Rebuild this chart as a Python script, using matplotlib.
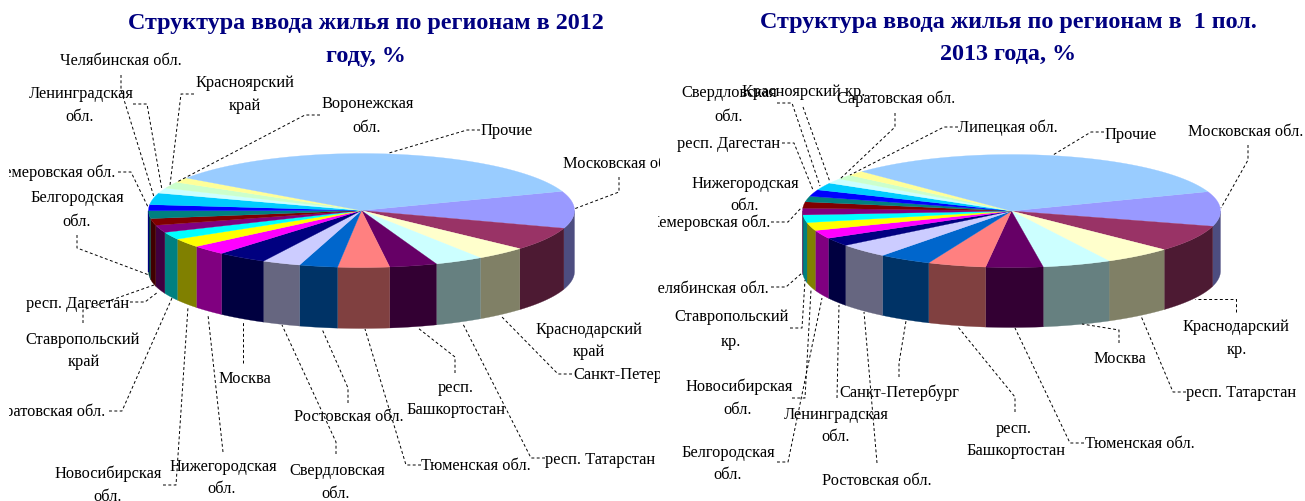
import numpy as np
import matplotlib
matplotlib.use("Agg")
import matplotlib.pyplot as plt

plt.rcParams['font.family'] = ['Liberation Serif', 'DejaVu Serif']

# ---------- data ----------
colors = ['#9999FF', '#993366', '#FFFFCC', '#CCFFFF', '#660066', '#FF8080', '#0066CC',
          '#CCCCFF', '#000080', '#FF00FF', '#FFFF00', '#00FFFF', '#800080', '#800000',
          '#008080', '#0000FF', '#00CCFF', '#CCFFFF', '#CCFFCC', '#FFFF99', '#99CCFF']

regions_2012 = ['Московская обл.', 'Краснодарский край', 'Санкт-Петербург', 'респ. Татарстан',
                'респ. Башкортостан', 'Тюменская обл.', 'Ростовская обл.', 'Свердловская обл.',
                'Москва', 'Нижегородская обл.', 'Новосибирская обл.', 'Саратовская обл.',
                'Ставропольский край', 'респ. Дагестан', 'Белгородская обл.', 'Кемеровская обл.',
                'Челябинская обл.', 'Ленинградская обл.', 'Красноярский край',
                'Воронежская обл.', 'Прочие']
values_2012 = [10.5, 6.6, 3.9, 3.7, 3.6, 3.9, 2.9, 2.9, 3.8, 2.7, 2.5, 2.1, 2.1, 1.9, 2.2,
               1.7, 3.3, 1.5, 1.8, 1.4, 34.8]

regions_2013 = ['Московская обл.', 'Краснодарский кр.', 'респ. Татарстан', 'Москва',
                'Тюменская обл.', 'респ. Башкортостан', 'Санкт-Петербург', 'Ростовская обл.',
                'Ленинградская обл.', 'Белгородская обл.', 'Новосибирская обл.',
                'Ставропольский кр.', 'Челябинская обл.', 'Кемеровская обл.',
                'Нижегородская обл.', 'респ. Дагестан', 'Свердловская обл.',
                'Красноярский кр.', 'Саратовская обл.', 'Липецкая обл.', 'Прочие']
values_2013 = [9.9, 7.6, 5.3, 5.3, 4.4, 4.5, 4.1, 4.0, 2.4, 2.4, 2.3, 2.2, 1.9, 1.8, 1.6,
               1.9, 2.1, 1.4, 1.3, 1.4, 32.1]

title_2012 = ['Структура ввода жилья по регионам в 2012', 'году, %']
title_2013 = ['Структура ввода жилья по регионам в  1 пол.', '2013 года, %']

# ---------- layout (figure pixels) ----------
W, H = 1305, 501
LABEL_FS = 11.8
TITLE_FS = 17.35
TEXT_DY = 1.0
NAVY = '#000080'

# text, x, y, ha
labels_left = [
    ('Челябинская обл.', 121, 60, 'center'), ('Ленинградская', 81, 93, 'center'), ('обл.', 80, 116, 'center'),
    ('Красноярский', 245, 82, 'center'), ('край', 245, 105, 'center'),
    ('Воронежская', 368, 103, 'center'), ('обл.', 367, 127, 'center'), ('Прочие', 507, 130, 'center'),
    ('Московская обл.', 563, 163, 'left'), ('Кемеровская обл.', 115, 172, 'right'),
    ('Белгородская', 77, 197, 'center'), ('обл.', 77, 221, 'center'), ('респ. Дагестан', 78, 303, 'center'),
    ('Ставропольский', 83, 339, 'center'), ('край', 84, 361, 'center'), ('Саратовская обл.', 105, 411, 'right'),
    ('Новосибирская', 108, 473, 'center'), ('обл.', 108, 496, 'center'),
    ('Нижегородская', 223, 466, 'center'), ('обл.', 222, 488, 'center'), ('Москва', 245, 378, 'center'),
    ('Свердловская', 337, 470, 'center'), ('обл.', 336, 493, 'center'), ('Ростовская обл.', 349, 416, 'center'),
    ('респ.', 456, 387, 'center'), ('Башкортостан', 456, 409, 'center'), ('Тюменская обл.', 476, 465, 'center'),
    ('респ. Татарстан', 600, 459, 'center'), ('Краснодарский', 589, 329, 'center'), ('край', 589, 351, 'center'),
    ('Санкт-Петербург', 573, 374, 'left'),
]
leaders_left = [
    [(480, 130), (467, 130), (389, 153)], [(619, 177), (619, 192), (574, 209)],
    [(320, 115), (305, 115), (177, 182)], [(194, 94), (181, 94), (170, 185)],
    [(121, 75), (121, 90), (154, 197)], [(133, 104), (147, 104), (162, 190)],
    [(118, 172), (131, 172), (148, 207)], [(77, 235), (77, 248), (149, 275)],
    [(130, 302), (145, 302), (158, 292)], [(83, 323), (83, 310), (154, 285)],
    [(109, 411), (122, 411), (172, 298)], [(163, 485), (176, 485), (188, 307)],
    [(223, 452), (208, 315)], [(243, 363), (243, 322)],
    [(336, 454), (336, 442), (282, 325)], [(348, 403), (348, 388), (322, 329)],
    [(421, 465), (406, 465), (365, 329)], [(455, 373), (455, 357), (418, 328)],
    [(545, 458), (531, 458), (463, 324)], [(572, 374), (558, 374), (502, 317)],
]

labels_right = [
    ('Свердловская', 729, 92, 'center'), ('обл.', 729, 116, 'center'), ('Красноярский кр.', 804, 91, 'center'),
    ('Саратовская обл.', 896, 98, 'center'), ('Липецкая обл.', 1008, 127, 'center'), ('Прочие', 1131, 134, 'center'),
    ('Московская обл.', 1246, 131, 'center'), ('респ. Дагестан', 729, 143, 'center'),
    ('Нижегородская', 745, 183, 'center'), ('обл.', 745, 205, 'center'), ('Кемеровская обл.', 770, 222, 'right'),
    ('Челябинская обл.', 769, 288, 'right'), ('Ставропольский', 732, 316, 'center'), ('кр.', 731, 341, 'center'),
    ('Новосибирская', 739, 386, 'center'), ('обл.', 738, 409, 'center'),
    ('Ленинградская', 836, 414, 'center'), ('обл.', 836, 436, 'center'), ('Санкт-Петербург', 899, 392, 'center'),
    ('Белгородская', 728, 452, 'center'), ('обл.', 728, 474, 'center'), ('Ростовская обл.', 877, 480, 'center'),
    ('респ.', 1014, 428, 'center'), ('Башкортостан', 1016, 450, 'center'), ('Тюменская обл.', 1140, 443, 'center'),
    ('Москва', 1120, 358, 'center'), ('респ. Татарстан', 1241, 392, 'center'),
    ('Краснодарский', 1236, 326, 'center'), ('кр.', 1237, 349, 'center'),
]
leaders_right = [
    [(1104, 132), (1091, 132), (1053, 155)], [(1248, 145), (1248, 160), (1221, 208)],
    [(958, 127), (944, 127), (850, 175)], [(895, 113), (895, 127), (840, 179)],
    [(803, 107), (830, 182)], [(777, 103), (792, 103), (820, 186)],
    [(782, 143), (794, 143), (813, 190)], [(771, 222), (788, 222), (802, 207)],
    [(771, 287), (786, 287), (802, 273)], [(790, 328), (802, 328), (805, 280)],
    [(792, 398), (805, 398), (811, 290)], [(777, 462), (788, 462), (822, 298)],
    [(837, 398), (839, 305)], [(877, 463), (864, 312)],
    [(899, 377), (899, 363), (906, 321)], [(1015, 412), (1015, 397), (958, 327)],
    [(1084, 443), (1070, 443), (1015, 328)], [(1119, 343), (1119, 330), (1082, 324)],
    [(1186, 392), (1173, 392), (1141, 316)], [(1236, 312), (1236, 299), (1195, 299)],
]


def darken(c):
    return tuple(0.5 * v for v in matplotlib.colors.to_rgb(c))


def draw_pie(ax, values, cx, cy, a, b, depth, start):
    vals = np.asarray(values, float)
    edges = start - np.concatenate([[0], np.cumsum(vals) / vals.sum() * 360])
    for t0, t1, col in zip(edges[:-1], edges[1:], colors):
        # side wall: only the part facing the viewer
        s0, s1 = min(t0, 0), max(t1, -180)
        if s0 > s1:
            tt = np.radians(np.linspace(s0, s1, 40))
            x = cx + a * np.cos(tt)
            y = cy - b * np.sin(tt)
            ax.fill(np.r_[x, x[::-1]], np.r_[y, y[::-1] + depth],
                    color=darken(col), lw=0.2, zorder=2)
    for t0, t1, col in zip(edges[:-1], edges[1:], colors):
        tt = np.radians(np.linspace(t0, t1, max(int(t0 - t1) * 2, 8)))
        ax.fill(np.r_[cx, cx + a * np.cos(tt)], np.r_[cy, cy - b * np.sin(tt)],
                color=col, lw=0.2, zorder=3)


def draw_labels(ax, labels, leaders):
    for pts in leaders:
        xs, ys = zip(*pts)
        ax.plot(xs, ys, color='black', lw=0.7, dashes=(3, 2.5), zorder=4)
    for txt, x, y, ha in labels:
        ax.text(x, y + TEXT_DY, txt, ha=ha, va='center', fontsize=LABEL_FS,
                color='black', clip_on=True, zorder=5)


fig = plt.figure(figsize=(W / 100, H / 100), dpi=100, facecolor='white')


def make_axes(x0, x1):
    ax = fig.add_axes([x0 / W, 0, (x1 - x0) / W, 1])
    ax.set_xlim(x0, x1)
    ax.set_ylim(H, 0)
    ax.axis('off')
    return ax


axL = make_axes(9, 660)
draw_pie(axL, values_2012, 361.5, 210.5, 213, 57, 61, 19.7)
draw_labels(axL, labels_left, leaders_left)
axL.text(365.5, 23, title_2012[0], ha='center', va='center', fontsize=TITLE_FS, fontweight='bold', color=NAVY)
axL.text(366, 56, title_2012[1], ha='center', va='center', fontsize=TITLE_FS, fontweight='bold', color=NAVY)

axR = make_axes(658, 1305)
draw_pie(axR, values_2013, 1011.5, 211, 209, 56.5, 60, 20)
draw_labels(axR, labels_right, leaders_right)
axR.text(1008.5, 22, title_2013[0], ha='center', va='center', fontsize=TITLE_FS, fontweight='bold', color=NAVY)
axR.text(1008, 54, title_2013[1], ha='center', va='center', fontsize=TITLE_FS, fontweight='bold', color=NAVY)

fig.savefig('out.png', dpi=100)
